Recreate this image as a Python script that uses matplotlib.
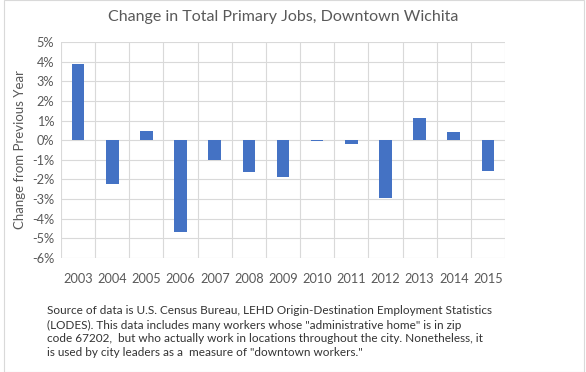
import matplotlib
matplotlib.use("Agg")
import matplotlib.pyplot as plt
from matplotlib.patches import Rectangle

years = ["2003", "2004", "2005", "2006", "2007", "2008", "2009", "2010", "2011", "2012", "2013", "2014", "2015"]
changes = [3.9, -2.25, 0.47, -4.7, -1.0, -1.6, -1.86, -0.06, -0.17, -2.93, 1.13, 0.42, -1.55]
yticks = [5, 4, 3, 2, 1, 0, -1, -2, -3, -4, -5, -6]

title = "Change in Total Primary Jobs, Downtown Wichita"
ylabel = "Change from Previous Year"
note_lines = [
    "Source of data is U.S. Census Bureau, LEHD Origin-Destination Employment Statistics",
    "(LODES). This data includes many workers whose \"administrative home\" is in zip",
    "code 67202,  but who actually work in locations throughout the city. Nonetheless, it",
    "is used by city leaders as a  measure of \"downtown workers.\"",
]

plt.rcParams['font.family'] = ['Lato', 'DejaVu Sans']
grey = "#595959"

fig = plt.figure(figsize=(5.86, 3.72), dpi=100)
ax = fig.add_axes([61/586, 1-258/372, (505-61)/586, (258-42)/372])

x = list(range(len(years)))
ax.bar(x, changes, width=0.37, color="#4472C4", zorder=3)

ax.set_xlim(-0.5, len(years) - 0.5)
ax.set_ylim(-6, 5)
ax.set_yticks(yticks)
ax.set_yticklabels([f"{v}%" for v in yticks])
ax.set_xticks(x)
ax.set_xticklabels(years)
ax.set_xticks([i - 0.5 for i in range(len(years) + 1)], minor=True)
ax.grid(axis='y', which='major', color="#d9d9d9", linewidth=0.8, zorder=0)
ax.grid(axis='x', which='minor', color="#d9d9d9", linewidth=0.8, zorder=0)
ax.tick_params(axis='both', which='both', length=0, labelsize=9.2, colors=grey)
ax.tick_params(axis='x', pad=10.5)
ax.tick_params(axis='y', pad=5)
for s in ax.spines.values():
    s.set_visible(False)

ax.set_ylabel(ylabel, color=grey, fontsize=9.5)
ax.yaxis.set_label_coords(-0.079, 0.5)

fig.text(0.5 * (61 + 505) / 586, 1 - 17/372, title, ha='center', va='center', fontsize=11.5, color=grey)

for i, line in enumerate(note_lines):
    fig.text(47/586, 1 - (311 + 14*i)/372, line, ha='left', va='center', fontsize=8.5, color="#333333")

fig.patches.append(Rectangle((4/586, 0.0), 1 - 6/586, 1.0, transform=fig.transFigure,
                             fill=False, edgecolor="#d9d9d9", linewidth=0.8))

fig.savefig("out.png", dpi=100, facecolor="white")
